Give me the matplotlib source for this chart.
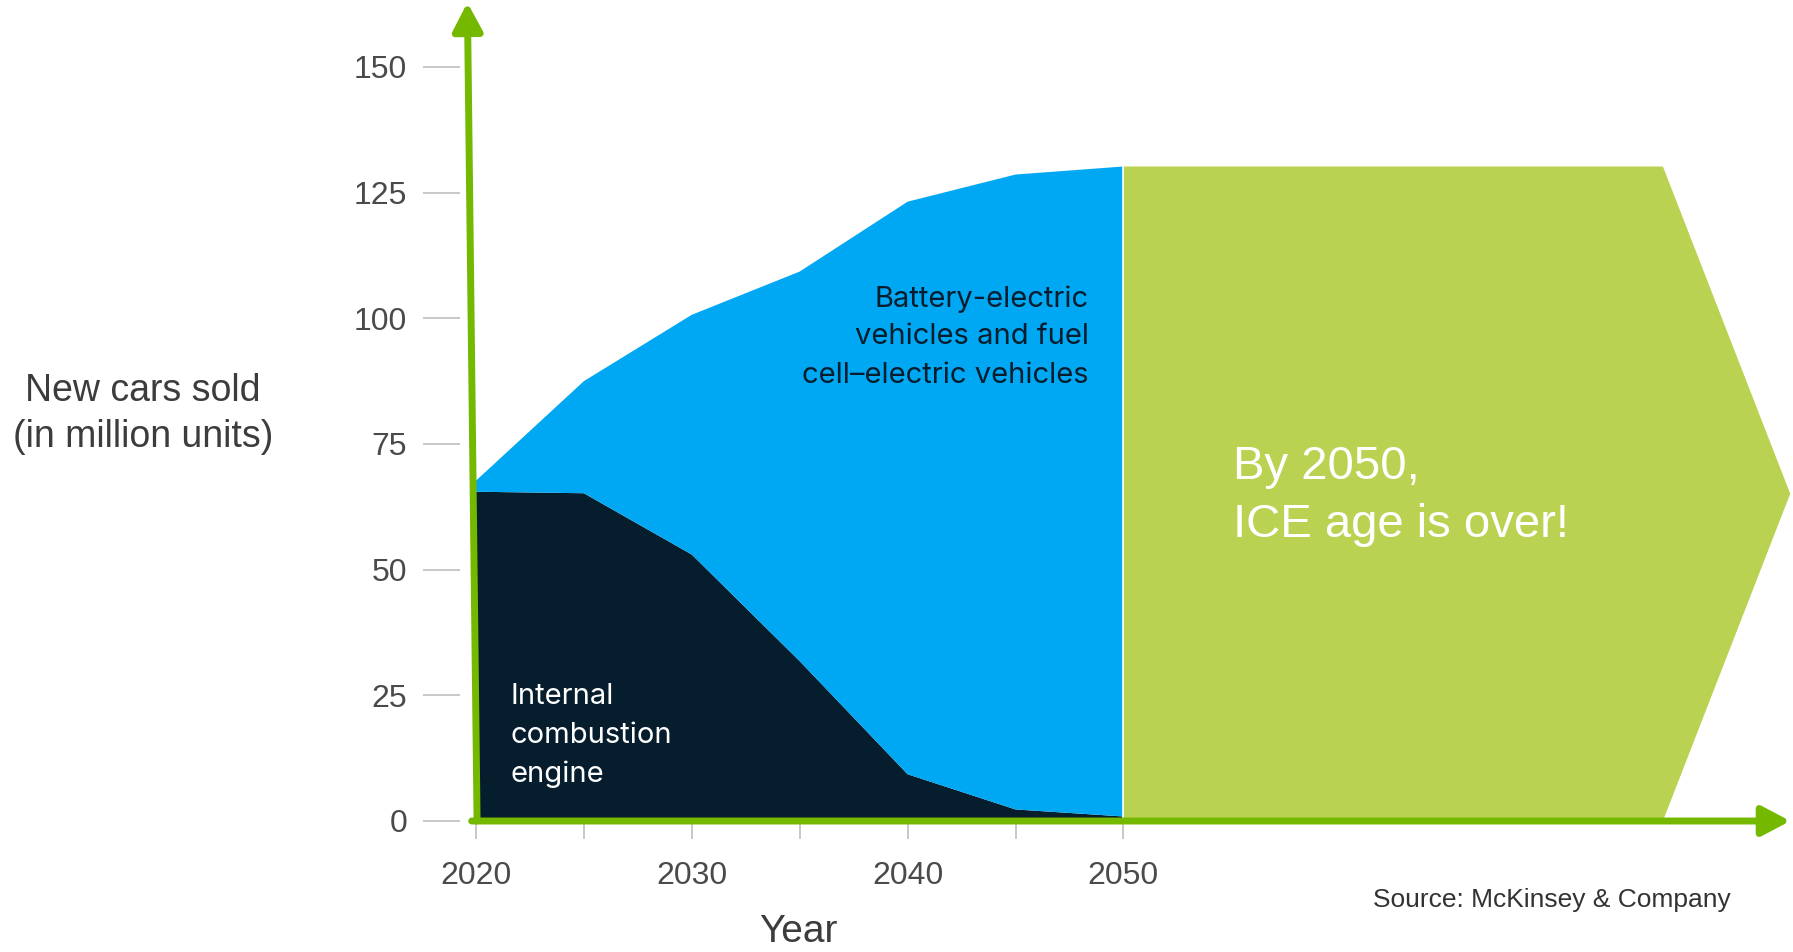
import matplotlib
matplotlib.use('Agg')
from matplotlib import pyplot as plt

years = [2020, 2025, 2030, 2035, 2040, 2045, 2050]
ice = [65.5, 65.2, 53.0, 31.8, 9.3, 2.3, 0.9]
electric = [2.2, 22.3, 47.7, 77.5, 113.9, 126.3, 129.3]
y_ticks = [0, 25, 50, 75, 100, 125, 150]
x_labels = [2020, 2030, 2040, 2050]

NAVY = '#061d2d'
BLUE = '#00a8f3'
LIME = '#b9d252'
ARROW = '#74b900'
GREY_TXT = '#4a4a4a'
NARROW = ['Liberation Sans Narrow', 'Liberation Sans', 'DejaVu Sans']
ARIAL = ['Liberation Sans', 'DejaVu Sans']
BODY = ['Inter', 'DejaVu Sans']

W, H = 1793, 952
PX_YEAR = 21.58      # pixels per year
PX_UNIT = 5.027      # pixels per million units
X0, Y0 = 476, 821    # pixel of (2020, 0)

fig = plt.figure(figsize=(W / 100, H / 100), dpi=100)
left_px = 460
ax = fig.add_axes([left_px / W, (H - Y0) / H, (W - left_px) / W, Y0 / H])
ax.set_xlim(2020 - (X0 - left_px) / PX_YEAR, 2020 + (W - X0) / PX_YEAR)
ax.set_ylim(0, Y0 / PX_UNIT)
for s in ax.spines.values():
    s.set_visible(False)

ax.stackplot(years, ice, electric, colors=[NAVY, BLUE], linewidth=0)

# banner arrow after 2050
top = ice[-1] + electric[-1]
ax.fill([2050, 2050, 2075, 2080.9, 2075], [0, top, top, top / 2, 0],
        color=LIME, linewidth=0, clip_on=False)
ax.plot([2050, 2050], [0, top], color='white', lw=1.2)

# ticks
ax.set_yticks(y_ticks)
ax.set_yticklabels([str(v) for v in y_ticks], family=NARROW, fontsize=23,
                   color=GREY_TXT)
ax.set_xticks(x_labels)
ax.set_xticklabels([str(v) for v in x_labels], family=NARROW, fontsize=23,
                   color=GREY_TXT)
ax.set_xticks([2025, 2035, 2045], minor=True)
ax.tick_params(axis='y', length=27, width=1.3, color='#c4c4c4', pad=11)
ax.tick_params(axis='x', which='both', length=13, width=1.3,
               color='#c4c4c4', pad=16)

# green axis arrows
ax.annotate('', xy=(2019.6, 162.8), xytext=(2020.05, 0),
            arrowprops=dict(arrowstyle='-|>,head_length=0.85,head_width=0.45',
                            color=ARROW, lw=5, mutation_scale=20,
                            shrinkA=0, shrinkB=0),
            annotation_clip=False)
ax.annotate('', xy=(2080.9, 0), xytext=(2019.8, 0),
            arrowprops=dict(arrowstyle='-|>,head_length=0.85,head_width=0.45',
                            color=ARROW, lw=5, mutation_scale=20,
                            shrinkA=0, shrinkB=0),
            annotation_clip=False)

# labels inside the chart
for txt, yv in zip(['Battery-electric', 'vehicles and fuel',
                    'cell\u2013electric vehicles'], [103.8, 96.3, 88.7]):
    ax.text(2048.4, yv, txt, ha='right', va='center', family=BODY,
            fontsize=21, color=NAVY)
for txt, yv in zip(['Internal', 'combustion', 'engine'], [24.7, 17.1, 9.3]):
    ax.text(2021.6, yv, txt, ha='left', va='center', family=BODY,
            fontsize=21, color='white')
for txt, yv in zip(['By 2050,', 'ICE age is over!'], [70.4, 58.8]):
    ax.text(2055.1, yv, txt, ha='left', va='center', family=ARIAL,
            fontsize=34, color='white')

fig.text(143 / W, 1 - 414 / H, 'New cars sold\n(in million units)',
         ha='center', va='center', family=ARIAL, fontsize=27,
         color='#3c3c3c', linespacing=1.36)
fig.text(798 / W, 1 - 932 / H, 'Year', ha='center', va='center',
         family=NARROW, fontsize=28, color='#3c3c3c')
fig.text(1731 / W, 1 - 900 / H, 'Source: McKinsey & Company', ha='right',
         va='center', family=ARIAL, fontsize=19, color='#333333')

fig.savefig('out.png', dpi=100)
